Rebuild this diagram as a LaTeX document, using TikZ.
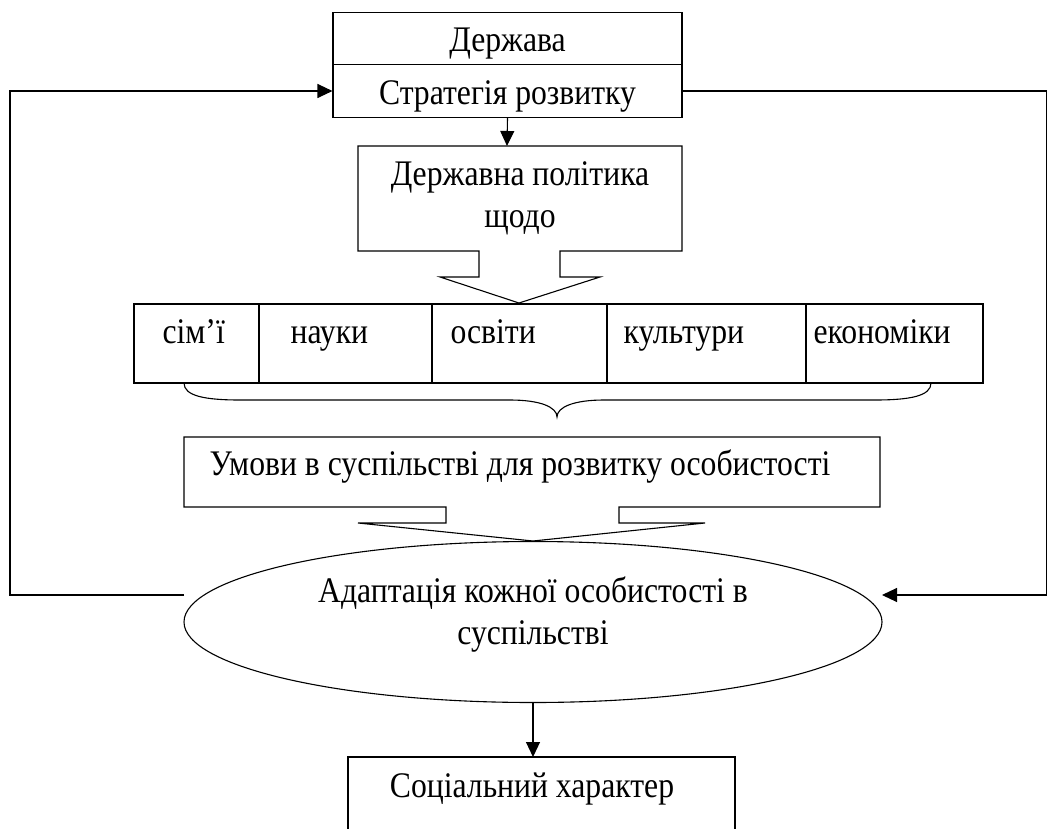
\documentclass[tikz,border=0pt]{standalone}
\usepackage{fontspec}
\setmainfont{Liberation Serif}[FakeStretch=0.88]
\usetikzlibrary{arrows.meta,shapes.geometric}

\tikzset{
  arr/.style={-{Triangle[length=7.5pt,width=7pt]}},
  box/.style={draw, minimum width=174.5pt, minimum height=26.25pt, inner sep=0pt,
    text height=16pt, text depth=2.5pt},
  lbl/.style={inner sep=0pt},
}

\begin{document}
\begin{tikzpicture}[x=0.5pt, y=-0.5pt, line width=0.55pt,
    font=\fontsize{18}{20.75}\selectfont]
  \useasboundingbox (0,0) rectangle (1047,828);

  % state and its strategy
  \node[box] (state) at (507.5,38.5) {Держава};
  \node[box] (strat) at (507.5,91) {Стратегія розвитку};

  % policy box with its tail
  \draw (358,146) -- (682,146) -- (682,251) -- (560,251) -- (560,277) -- (600,277)
    -- (519,303) -- (440,277) -- (479,277) -- (479,251) -- (358,251) -- cycle;
  \node[lbl, align=center] (policy) at (520,198.5) {Державна політика\\щодо};
  \coordinate (policytop) at (507,146);
  \draw[arr] (strat.south) -- (policytop);

  % fields
  \foreach \a/\b/\s/\t [count=\i] in {134/259/162/сім’ї, 259/432/290/науки,
      432/607/450/освіти, 607/806/623/культури, 806/983/813/економіки} {
    \draw (\a,304) rectangle (\b,383);
    \node[lbl, anchor=base west] (field\i) at (\s,343) {\t};
  }

  % brace
  \draw (184,383) .. controls (184,396) and (205,400) .. (240,400) -- (510,400)
    .. controls (540,400) and (557,407) .. (557,417)
    .. controls (557,407) and (574,400) .. (604,400) -- (875,400)
    .. controls (910,400) and (931,396) .. (931,383);

  % conditions box with its tail
  \draw (184,437) -- (880,437) -- (880,507) -- (619,507) -- (619,523) -- (705,523)
    -- (533,541) -- (358,523) -- (446,523) -- (446,507) -- (184,507) -- cycle;
  \node[lbl, anchor=base] (cond) at (520,475)
    {Умови в суспільстві для розвитку особистості};

  % adaptation
  \node[draw, ellipse, minimum width=349pt, minimum height=80.5pt] (adapt) at (533,622) {};
  \node[lbl, align=center] (adapttext) at (533,614.5)
    {Адаптація кожної особистості в\\суспільстві};

  % social character
  \draw (348,840) -- (348,757) -- (735,757) -- (735,840);
  \node[lbl, anchor=base] (social) at (532,797) {Соціальний характер};
  \coordinate (socialtop) at (533,757);
  \draw[arr] (adapt.south) -- (socialtop);

  % feedback lines
  \coordinate (fbl) at (184,595);
  \coordinate (fbr) at (882,595);
  \draw[arr] (fbl) -- (10,595) -- (10,91) -- (strat.west);
  \draw[arr] (strat.east) -- (1047,91) -- (1047,595) -- (fbr);
\end{tikzpicture}
\end{document}
